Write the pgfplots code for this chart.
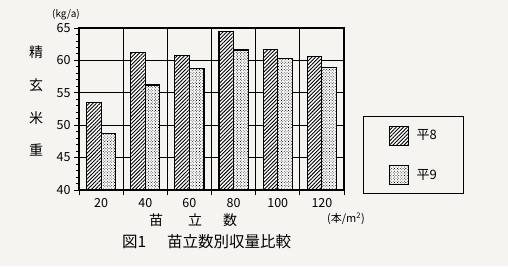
\documentclass[border=0pt]{standalone}
\usepackage{fontspec}
\setmainfont{Noto Sans CJK JP}
\usepackage{pgfplots}
\pgfplotsset{compat=1.18}
\usetikzlibrary{patterns.meta}
\definecolor{paper}{RGB}{245,244,241}
\begin{document}
\begin{tikzpicture}[x=1bp,y=1bp]
\fill[paper] (0,0) rectangle (508,266);
\begin{axis}[
  at={(79bp,76bp)}, anchor=south west,
  scale only axis, width=265bp, height=162bp,
  xmin=-0.5, xmax=5.5, ymin=40, ymax=65,
  xtick={-0.5,0.5,...,5.5},
  xticklabels={20,40,60,80,100,120},
  x tick label as interval,
  ytick={40,45,...,65},
  minor y tick num=4,
  xmajorgrids, ymajorgrids,
  grid style={black, line width=0.9bp},
  axis line style={line width=1.4bp},
  tick style={black, line width=0.9bp},
  tick align=outside,
  xtick pos=bottom, ytick pos=left,
  major tick length=5bp, minor tick length=3bp,
  /pgf/number format/assume math mode=true,
  tick label style={font=\fontsize{12.5bp}{14bp}\selectfont},
  ybar=0pt, bar width=0.33,
  legend style={at={(1.0717,0.4568)}, anchor=north west, draw=black, line width=1bp, fill=none,
    inner xsep=25bp, inner ysep=9bp, row sep=19bp,
    font=\fontsize{13bp}{15bp}\selectfont,
    /tikz/every odd column/.append style={column sep=6bp}},
  legend cell align=left,
  legend image code/.code={\draw[#1, line width=1.2bp] (0bp,-9.5bp) rectangle (19bp,9.5bp);},
]
\addplot[draw=black, line width=1.1bp, fill=white,
  postaction={pattern={Lines[angle=45,distance=2.6bp,line width=0.9bp]}}]
  coordinates {(0,53.5)(1,61.2)(2,60.7)(3,64.4)(4,61.7)(5,60.6)};
\addlegendentry{平8}
\addplot[draw=black, line width=1.1bp, fill=white,
  postaction={pattern={Dots[distance=2bp,radius=0.55bp,angle=45]}}]
  coordinates {(0,48.7)(1,56.2)(2,58.8)(3,61.6)(4,60.3)(5,58.9)};
\addlegendentry{平9}
\end{axis}
\node[font=\fontsize{10bp}{12bp}\selectfont] at (66,251) {(kg/a)};
\begin{scope}[every node/.style={font=\fontsize{14bp}{16bp}\selectfont}]
\node at (36,214) {精};
\node at (36,181) {玄};
\node at (36,148) {米};
\node at (36,116) {重};
\node at (156,46) {苗};
\node at (195,46) {立};
\node at (230,46) {数};
\end{scope}
\node[anchor=west, font=\fontsize{11bp}{13bp}\selectfont, inner sep=0] at (327,47) {(本/m\textsuperscript{2})};
\node[anchor=west, font=\fontsize{15.5bp}{18bp}\selectfont, inner sep=0] at (122,24) {図1};
\node[anchor=west, font=\fontsize{15.5bp}{18bp}\selectfont, inner sep=0] at (167,24) {苗立数別収量比較};
\end{tikzpicture}
\end{document}
